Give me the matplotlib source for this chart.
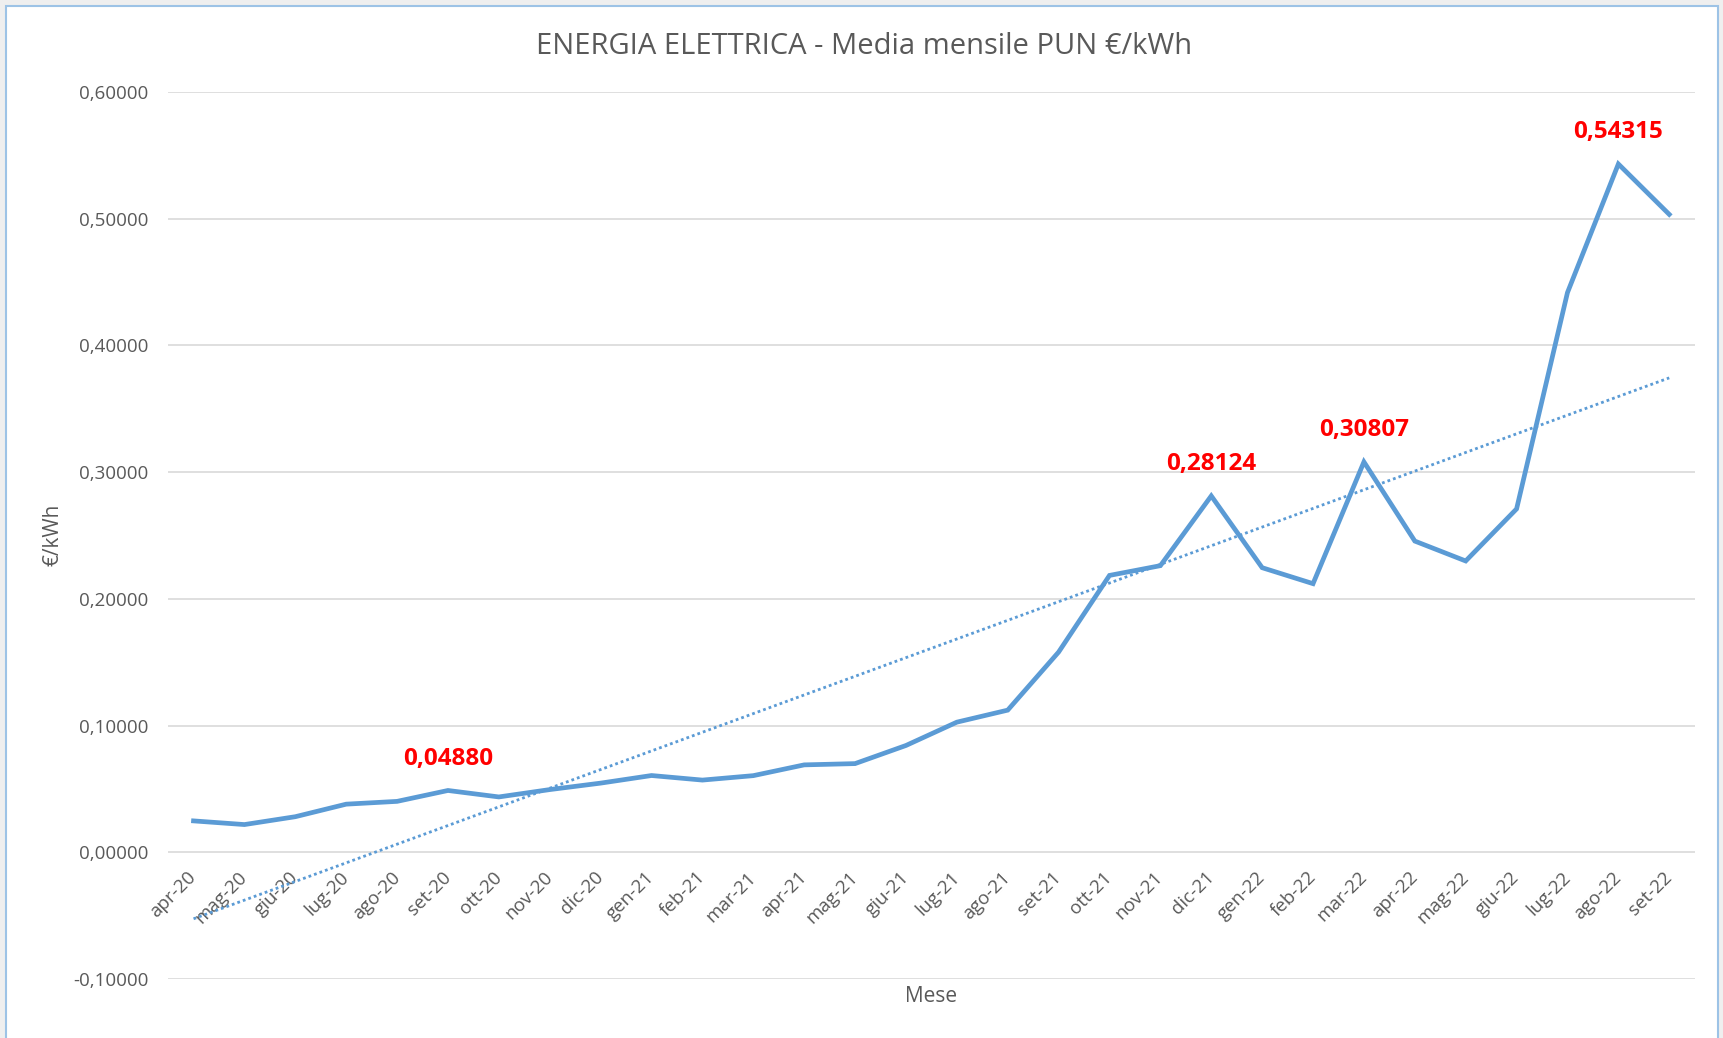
import matplotlib
matplotlib.use("Agg")
import matplotlib.pyplot as plt
from matplotlib.ticker import FuncFormatter
from matplotlib.patches import Rectangle
import numpy as np

plt.rcParams['font.family'] = ['Open Sans', 'DejaVu Sans']

mesi = ['apr-20', 'mag-20', 'giu-20', 'lug-20', 'ago-20', 'set-20', 'ott-20', 'nov-20',
        'dic-20', 'gen-21', 'feb-21', 'mar-21', 'apr-21', 'mag-21', 'giu-21', 'lug-21',
        'ago-21', 'set-21', 'ott-21', 'nov-21', 'dic-21', 'gen-22', 'feb-22', 'mar-22',
        'apr-22', 'mag-22', 'giu-22', 'lug-22', 'ago-22', 'set-22']
pun = [0.0248, 0.0219, 0.0281, 0.0380, 0.0402, 0.04880, 0.0437, 0.0495,
       0.0546, 0.0606, 0.0570, 0.0605, 0.0690, 0.0700, 0.0843, 0.1027,
       0.1122, 0.1580, 0.2185, 0.2262, 0.28124, 0.2246, 0.2120, 0.30807,
       0.2456, 0.2299, 0.2710, 0.4417, 0.54315, 0.5034]
etichette = {'set-20': '0,04880', 'dic-21': '0,28124', 'mar-22': '0,30807', 'ago-22': '0,54315'}

blu = '#5B9BD5'
grigio = '#595959'

fig = plt.figure(figsize=(17.24, 10.38), dpi=100)
fig.patch.set_facecolor('#EFEFEF')
fig.patches.append(Rectangle((6 / 1724, -0.01), 1712 / 1724, 1 - 6 / 1038 + 0.01,
                             transform=fig.transFigure, facecolor='white',
                             edgecolor='#9DC3E6', linewidth=1.5, zorder=-10))

ax = fig.add_axes([0.0975, 0.0568, 0.8855, 0.8546])
ax.set_facecolor('none')
ax.set_zorder(5)

x = np.arange(len(mesi))
y = np.array(pun)

# linea di tendenza lineare
coef = np.polyfit(x, y, 1)
ax.plot(x, np.polyval(coef, x), color=blu, lw=2, linestyle=(0, (1, 1.1)), zorder=2)

ax.plot(x, y, color=blu, lw=3.4, solid_joinstyle='miter', zorder=3)

for m, t in etichette.items():
    i = mesi.index(m)
    ax.annotate(t, (i, pun[i]), xytext=(0, 23), textcoords='offset points',
                ha='center', va='center', color='red', fontsize=17.5, fontweight='bold')

ax.set_xlim(-0.5, len(mesi) - 0.5)
ax.set_ylim(-0.1, 0.6)
ax.set_yticks(np.arange(-0.1, 0.61, 0.1))
ax.yaxis.set_major_formatter(FuncFormatter(lambda v, p: f'{v:.5f}'.replace('.', ',').replace('-0,00000', '0,00000')))
ax.grid(axis='y', color='#D9D9D9', lw=1.2)
ax.set_axisbelow(True)
for s in ax.spines.values():
    s.set_visible(False)
ax.spines['bottom'].set_position(('data', 0))

ax.set_xticks(x)
ax.set_xticklabels(mesi, rotation=45, ha='right', va='center', rotation_mode='anchor')
ax.tick_params(axis='x', length=0, pad=16, labelsize=13.5, labelcolor=grigio)
ax.tick_params(axis='y', length=0, pad=14, labelsize=13.5, labelcolor=grigio)

fig.text(864 / 1724, 1 - 46 / 1038, 'ENERGIA ELETTRICA - Media mensile PUN €/kWh',
         ha='center', va='center', fontsize=21, color=grigio)
fig.text(53 / 1724, 1 - 535 / 1038, '€/kWh', rotation=90, ha='center', va='center',
         fontsize=15, color=grigio)
fig.text(931 / 1724, 1 - 997 / 1038, 'Mese', ha='center', va='center',
         fontsize=15, color=grigio)

fig.savefig('out.png', dpi=100, facecolor=fig.get_facecolor())
